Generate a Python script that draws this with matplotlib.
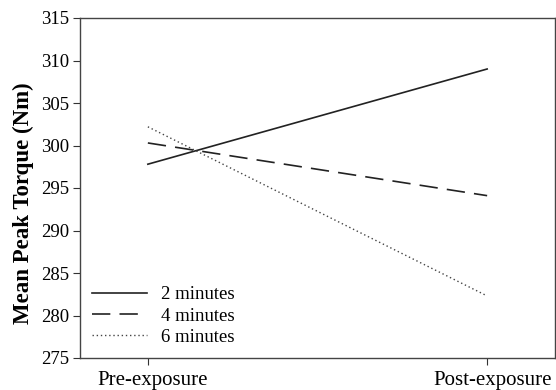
import matplotlib
matplotlib.use("Agg")
import matplotlib.pyplot as plt
import matplotlib.transforms as mtransforms

conditions = ["Pre-exposure", "Post-exposure"]
labels = ["2 minutes", "4 minutes", "6 minutes"]
min2 = [297.8, 309.0]
min4 = [300.3, 294.1]
min6 = [302.2, 282.3]

plt.rcParams['font.family'] = ['Liberation Serif', 'DejaVu Serif']

fig = plt.figure(figsize=(5.56, 3.9), dpi=100)
ax = fig.add_axes([80/556, 1-358/390, (555-80)/556, (358-18)/390])

x = [0, 1]
ax.plot(x, min2, color='#222222', lw=1.2, ls='-', label=labels[0])
ax.plot(x, min4, color='#222222', lw=1.2, ls=(0, (11, 5.5)), label=labels[1])
ax.plot(x, min6, color='#444444', lw=1.0, ls=(0, (1, 2)), label=labels[2])

ax.set_xlim(-0.2, 1.2)
ax.set_ylim(275, 315)
ax.set_yticks(range(275, 316, 5))
ax.set_xticks(x)
ax.set_xticklabels(conditions)
ax.tick_params(axis='both', direction='out', color='#333333', length=5)
ax.tick_params(axis='y', labelsize=13.5, pad=3)
ax.tick_params(axis='x', labelsize=15, pad=4)
offset = mtransforms.ScaledTranslation(5/100, 0, fig.dpi_scale_trans)
for lab in ax.get_xticklabels():
    lab.set_transform(lab.get_transform() + offset)
for s in ax.spines.values():
    s.set_color('#444444')
    s.set_linewidth(1.0)
ax.set_ylabel("Mean Peak Torque (Nm)", fontsize=16.5, fontweight='bold')
ax.yaxis.set_label_coords(-46/475, 0.455)

leg = ax.legend(loc='lower left', frameon=False, fontsize=13.5, handlelength=2.9,
                handletextpad=0.75, bbox_to_anchor=(0.0, 0.0), borderaxespad=0.25,
                labelspacing=0.22)

fig.savefig("out.png", dpi=100)
